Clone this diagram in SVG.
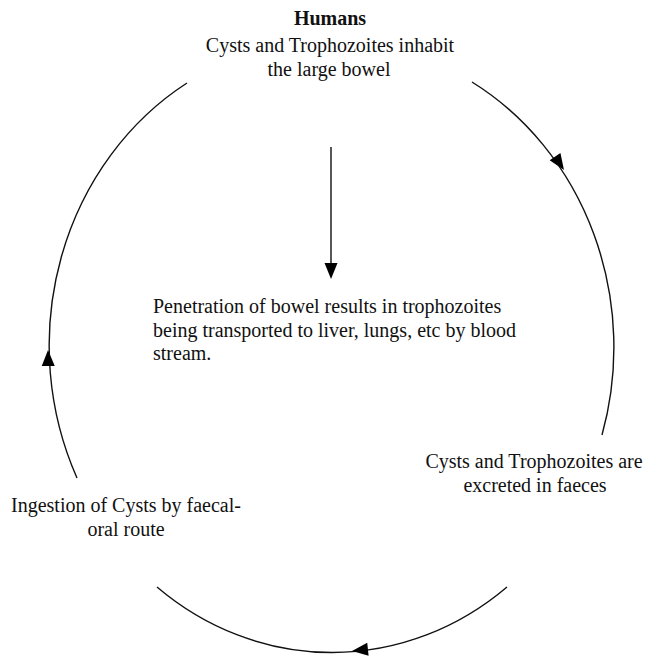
<svg xmlns="http://www.w3.org/2000/svg" width="646" height="659" viewBox="0 0 646 659">
<defs>
<style>
.t{font-family:"Liberation Serif","Times New Roman",serif;font-size:20px;fill:#111}
.c{text-anchor:middle}
.b{font-weight:bold}
.ln{fill:none;stroke:#111;stroke-width:1.4}
.ah{fill:#000}
</style>
<path id="head" d="M0,0 L-16,-6.5 L-16,6.5 Z"/>
</defs>
<rect width="646" height="659" fill="#fff"/>
<g id="connectors">
<path class="ln" d="M472,82 A283,306 0 0 1 602,435"/>
<use href="#head" class="ah" transform="translate(564,170) rotate(56)"/>
<path class="ln" d="M507,587 A283,306 0 0 1 157,587"/>
<use href="#head" class="ah" transform="translate(352,651) rotate(174)"/>
<path class="ln" d="M77,478 A283,306 0 0 1 187,83"/>
<use href="#head" class="ah" transform="translate(48,350) rotate(-91)"/>
<line class="ln" x1="331" y1="147" x2="331" y2="265"/>
<use href="#head" class="ah" transform="translate(331,279) rotate(90)"/>
</g>
<g id="humans">
<text class="t c b" x="330" y="25">Humans</text>
<text class="t c" x="330" y="52">Cysts and Trophozoites inhabit</text>
<text class="t c" x="329" y="76">the large bowel</text>
</g>
<g id="penetration">
<text class="t" x="153" y="313">Penetration of bowel results in trophozoites</text>
<text class="t" x="153" y="337">being transported to liver, lungs, etc by blood</text>
<text class="t" x="153" y="360">stream.</text>
</g>
<g id="excreted">
<text class="t c" x="534" y="468">Cysts and Trophozoites are</text>
<text class="t c" x="535" y="492">excreted in faeces</text>
</g>
<g id="ingestion">
<text class="t c" x="126" y="512">Ingestion of Cysts by faecal-</text>
<text class="t c" x="126" y="536">oral route</text>
</g>
</svg>
